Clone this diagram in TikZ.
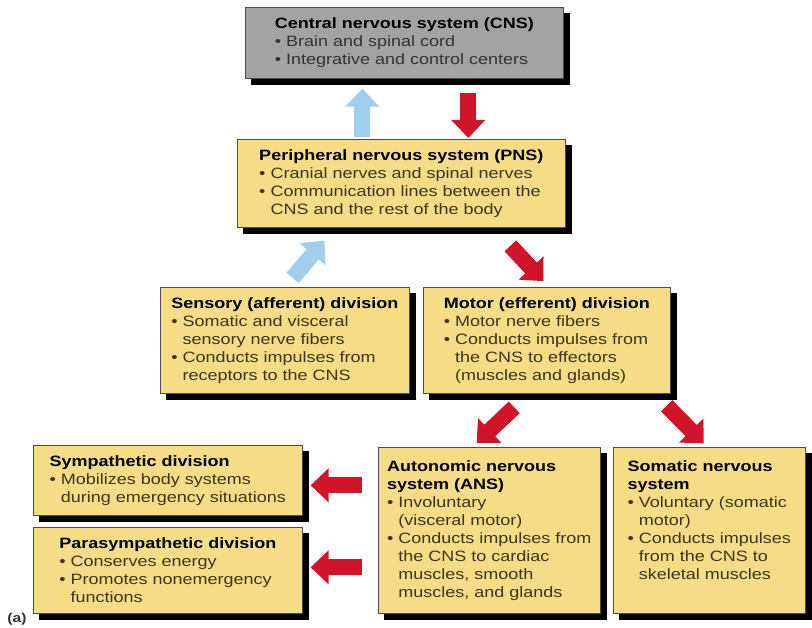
\documentclass[tikz,border=0pt]{standalone}
\usepackage{fontspec}
\setmainfont{Liberation Sans}[FakeStretch=1.2]
\usetikzlibrary{arrows.meta,backgrounds,calc}
\definecolor{boxyellow}{RGB}{246,220,134}
\definecolor{cnsgray}{RGB}{163,163,163}
\definecolor{nervered}{RGB}{208,20,42}
\definecolor{nerveblue}{RGB}{160,206,236}
\definecolor{bodytext}{RGB}{62,52,24}
\newcommand{\bul}{\textbullet\ }
\newcommand{\ind}{\phantom{\textbullet\ }}
\newcommand{\hd}[1]{{\bfseries\color{black}#1}}

\begin{document}
\begin{tikzpicture}[x=1pt,y=-1pt]
\tikzstyle{every node}+=[font=\fontsize{15}{18}\selectfont]
\tikzstyle{box}=[draw=black!70, line width=0.6pt, fill=boxyellow, anchor=north west, align=left, inner sep=0pt, text=bodytext]
\tikzstyle{bigarrow}=[line width=16pt, -{Triangle[length=18pt,width=33pt]}]
\tikzstyle{redarrow}=[bigarrow, draw=nervered]
\tikzstyle{bluearrow}=[bigarrow, draw=nerveblue]
\useasboundingbox (0,0) rectangle (812,628);
\node [box, fill=cnsgray, text=black!80, minimum width=318, minimum height=71] (cns) at (245,7)
  {\hd{Central nervous system (CNS)}\\\bul Brain and spinal cord\\\bul Integrative and control centers};
\node [box, minimum width=328, minimum height=88] (pns) at (237,139)
  {\hd{Peripheral nervous system (PNS)}\\\bul Cranial nerves and spinal nerves\\\bul Communication lines between the\\\ind CNS and the rest of the body};
\node [box, minimum width=249, minimum height=106] (sens) at (160,287)
  {\hd{Sensory (afferent) division}\\\bul Somatic and visceral\\\ind sensory nerve fibers\\\bul Conducts impulses from\\\ind receptors to the CNS};
\node [box, minimum width=247, minimum height=106] (motor) at (423,287)
  {\hd{Motor (efferent) division}\\\bul Motor nerve fibers\\\bul Conducts impulses from\\\ind the CNS to effectors\\\ind (muscles and glands)};
\node [box, minimum width=222, minimum height=166] (ans) at (378,447)
  {\hd{Autonomic nervous}\\\hd{system (ANS)}\\\bul Involuntary\\\ind (visceral motor)\\\bul Conducts impulses from\\\ind the CNS to cardiac\\\ind muscles, smooth\\\ind muscles, and glands};
\node [box, minimum width=192, minimum height=166] (som) at (613,447)
  {\hd{Somatic nervous}\\\hd{system}\\\bul Voluntary (somatic\\\ind motor)\\\bul Conducts impulses\\\ind from the CNS to\\\ind skeletal muscles\\[2pt]};
\node [box, minimum width=269, minimum height=70] (symp) at (33,445)
  {\hd{Sympathetic division}\\\bul Mobilizes body systems\\\ind during emergency situations};
\node [box, minimum width=269, minimum height=86] (para) at (33,527)
  {\hd{Parasympathetic division}\\\bul Conserves energy\\\bul Promotes nonemergency\\\ind functions};
\node [font=\bfseries\fontsize{13}{15}\selectfont, text=black!80] (tag) at (17,619) {(a)};
\begin{scope}[on background layer]
\foreach \b in {cns,pns,sens,motor,ans,som,symp,para}
  \fill [black] ($(\b.north west)+(6,6)$) rectangle ($(\b.south east)+(6,6)$);
\end{scope}
\draw [bluearrow, shorten <=2pt, shorten >=10pt] ([xshift=-39pt]pns.north) -- ([xshift=-39pt]pns.north |- cns.south);
\draw [redarrow, shorten <=14pt, shorten >=1pt] ([xshift=67pt]pns.north |- cns.south) -- ([xshift=67pt]pns.north);
\draw [bluearrow, shorten <=12pt, shorten >=17pt] (sens.north) -- ([xshift=-66pt]pns.south);
\draw [redarrow, shorten <=25pt, shorten >=8pt] ([xshift=92pt]pns.south) -- ([xshift=2pt]motor.north);
\draw [redarrow, shorten <=20pt, shorten >=6pt] ([xshift=-18pt]motor.south) -- ([xshift=-17pt]ans.north);
\draw [redarrow, shorten <=17pt, shorten >=5pt] ([xshift=108pt]motor.south) -- ([xshift=-2pt]som.north);
\draw [redarrow, shorten <=16pt, shorten >=8pt] ($(ans.west |- symp.east)+(0,5)$) -- ($(symp.east)+(0,5)$);
\draw [redarrow, shorten <=16pt, shorten >=8pt] ($(ans.west |- para.east)+(0,-3)$) -- ($(para.east)+(0,-3)$);
\end{tikzpicture}
\end{document}
